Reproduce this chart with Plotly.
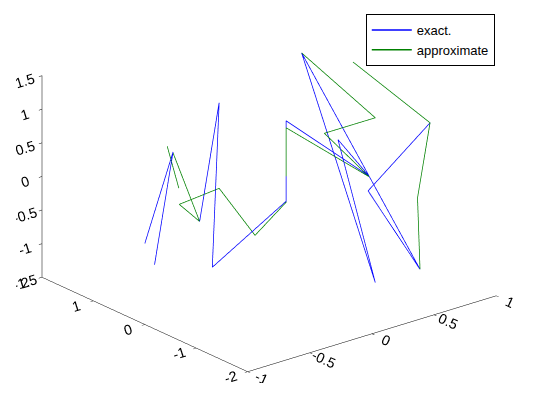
import plotly.graph_objects as go

# exact curve (None splits the separate pieces)
exact_x = [-0.586, -0.359, -0.508, None,
           -0.352, -0.195, -0.250, 0.137, 0.137, 0.805, 0.883, 0.234, 0.555, 0.805, 0.594, 0.797, 0.882]
exact_y = [1.0, 1.0, 1.0, None,
           0.5, 0.5, 0.5, 0.0, 0.0, 0.0, 1.5, -1.5, 0.0, 0.0, -1.5, 0.0, -1.0]
exact_z = [-0.878, 0.354, -1.240, None,
           -0.508, 1.170, -1.247, -0.308, 0.889, -0.311, 0.951, -1.045, 0.372, -0.311, -1.051, -0.526, 0.790]

# approximate curve
approx_x = [-0.406, -0.3125, None,
            -0.359, -0.352, -0.516, -0.195, 0.094, 0.137, 0.137, 0.805, 0.445, 0.855, 0.883, None,
            0.883, 0.882, 0.781, 0.594]
approx_y = [1.0, 1.0, None,
            1.0, 0.5, 0.5, 0.5, 0.5, 0.0, 0.0, 0.0, 0.0, 0.0, 1.5, None,
            0.5, -1.0, -1.0, -1.5]
approx_z = [0.466, -0.211, None,
            0.340, -0.508, -0.161, -0.104, -0.967, -0.323, 0.786, -0.320, 0.530, 0.529, 0.951, None,
            1.167, 0.790, -0.273, -1.051]

x_ticks = [-1, -0.5, 0, 0.5, 1]
y_ticks = [-2, -1, 0, 1, 2]
y_labels = ["-2", "-1", "0", "1", "\u00a0\u00a02"]
z_ticks = [-1.5, -1, -0.5, 0, 0.5, 1, 1.5]
z_labels = ["-1.5\u00a0\u00a0\u00a0\u00a0", "-1", "-0.5", "0", "0.5", "1", "1.5"]

font = dict(family="Liberation Sans, Arial, sans-serif", size=13, color="black")

fig = go.Figure()
fig.add_trace(go.Scatter3d(x=exact_x, y=exact_y, z=exact_z, mode="lines", name="exact.",
                           line=dict(color="rgb(0,0,255)", width=1.5), connectgaps=False))
fig.add_trace(go.Scatter3d(x=approx_x, y=approx_y, z=approx_z, mode="lines", name="approximate",
                           line=dict(color="rgb(0,128,0)", width=1.5), connectgaps=False))


def axis(rng, ticks, labels=None):
    return dict(range=rng, tickvals=ticks, ticktext=labels or [f"{t:g}" for t in ticks], title=dict(text=""),
                showbackground=False, showgrid=False, zeroline=False, showspikes=False,
                showline=True, linecolor="black", linewidth=1, ticks="inside", ticklen=4,
                tickcolor="black", tickfont=font, autorange=False)


s = 1.71
fig.update_layout(
    width=534, height=401,
    margin=dict(l=0, r=0, t=0, b=0),
    paper_bgcolor="white",
    font=font,
    scene=dict(
        domain=dict(x=[0.015, 1], y=[0.065, 1]),
        xaxis=axis([-1, 1], x_ticks),
        yaxis=axis([-2, 2], y_ticks, y_labels),
        zaxis=axis([-1.5, 1.5], z_ticks, z_labels),
        aspectmode="manual",
        aspectratio=dict(x=1 * s, y=1.015 * s, z=0.678 * s),
        camera=dict(projection=dict(type="orthographic"),
                    center=dict(x=0.030, y=-0.047, z=-0.049),
                    eye=dict(x=-0.571 * 2, y=-0.742 * 2, z=0.350 * 2),
                    up=dict(x=0, y=0, z=1)),
    ),
    legend=dict(x=0.670, y=0.985, xanchor="left", yanchor="top", bgcolor="white",
                bordercolor="black", borderwidth=1, font=font, itemwidth=40),
)

fig.write_html("out.html", config={"displayModeBar": False})
